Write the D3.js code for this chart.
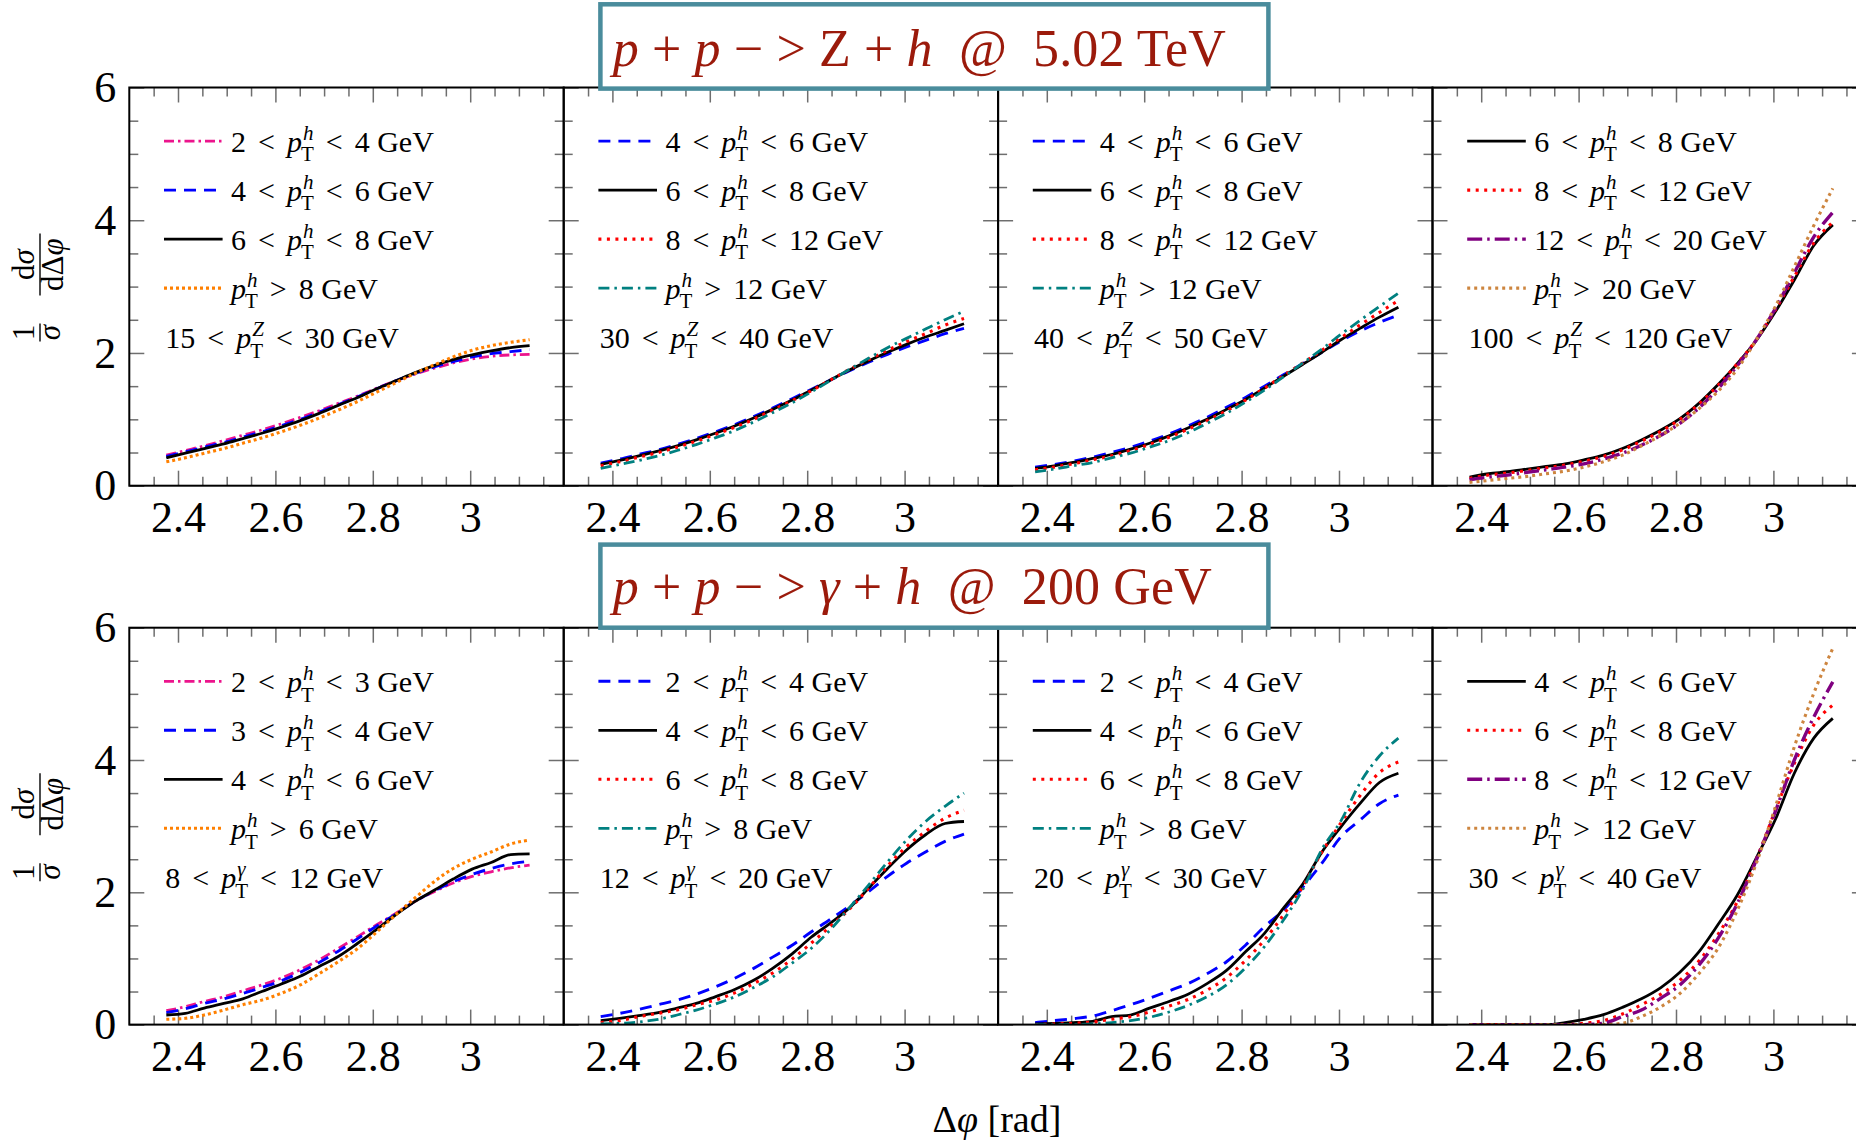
<!DOCTYPE html>
<html><head><meta charset="utf-8">
<script src="https://cdn.jsdelivr.net/npm/d3@7"></script>
<style>
body{margin:0;background:#fff}
svg{display:block}
svg text{font-family:"Liberation Serif","Times New Roman",serif !important}
</style>
</head><body><svg id="c" width="1856" height="1143"></svg>
<script>
// ---------------- DATA ----------------
const xValues = [2.376, 2.415, 2.454, 2.494, 2.533, 2.572, 2.611, 2.651, 2.690, 2.729,
                 2.769, 2.808, 2.847, 2.886, 2.926, 2.965, 3.004, 3.043, 3.083, 3.122];

const xMajorTicks = [2.4, 2.6, 2.8, 3.0];
const xMinorTicks = [2.35, 2.45, 2.5, 2.55, 2.65, 2.7, 2.75, 2.85, 2.9, 2.95, 3.05, 3.1, 3.15];
const yMajorTicks = [0, 2, 4, 6];
const yMinorTicks = [0.5, 1, 1.5, 2.5, 3, 3.5, 4.5, 5, 5.5];

// Z + h, 15 < pT^Z < 30 GeV
const z15_h2_4  = [0.46,0.53,0.60,0.68,0.76,0.84,0.93,1.03,1.13,1.24,1.35,1.47,1.58,1.68,1.77,1.85,1.91,1.95,1.97,1.98];
const z15_h4_6  = [0.44,0.51,0.58,0.65,0.73,0.81,0.90,1.00,1.11,1.22,1.34,1.46,1.58,1.69,1.79,1.87,1.94,1.99,2.02,2.05];
const z15_h6_8  = [0.42,0.49,0.56,0.63,0.71,0.79,0.88,0.98,1.09,1.21,1.33,1.46,1.58,1.70,1.81,1.90,1.97,2.03,2.08,2.11];
const z15_h8    = [0.36,0.42,0.49,0.56,0.64,0.72,0.81,0.91,1.02,1.14,1.27,1.41,1.55,1.69,1.82,1.94,2.04,2.11,2.16,2.20];
// Z + h, 30 < pT^Z < 40 GeV
const z30_h4_6  = [0.34,0.40,0.47,0.54,0.62,0.71,0.81,0.92,1.04,1.17,1.31,1.45,1.59,1.73,1.86,1.98,2.09,2.19,2.29,2.37];
const z30_h6_8  = [0.32,0.38,0.45,0.52,0.60,0.69,0.79,0.90,1.02,1.15,1.29,1.44,1.59,1.74,1.88,2.01,2.13,2.24,2.34,2.44];
const z30_h8_12 = [0.30,0.36,0.43,0.50,0.58,0.67,0.77,0.88,1.00,1.14,1.28,1.43,1.59,1.75,1.90,2.04,2.17,2.29,2.42,2.52];
const z30_h12   = [0.26,0.32,0.38,0.45,0.53,0.62,0.72,0.83,0.96,1.10,1.25,1.41,1.58,1.75,1.92,2.08,2.22,2.36,2.50,2.63];
// Z + h, 40 < pT^Z < 50 GeV
const z40_h4_6  = [0.28,0.32,0.37,0.43,0.50,0.58,0.67,0.78,0.90,1.03,1.18,1.33,1.50,1.67,1.84,2.01,2.18,2.33,2.46,2.57];
const z40_h6_8  = [0.26,0.30,0.35,0.41,0.47,0.55,0.64,0.75,0.87,1.00,1.15,1.30,1.47,1.65,1.83,2.01,2.20,2.37,2.54,2.69];
const z40_h8_12 = [0.24,0.28,0.33,0.39,0.45,0.53,0.62,0.73,0.85,0.98,1.13,1.29,1.47,1.66,1.85,2.04,2.23,2.42,2.61,2.79];
const z40_h12   = [0.21,0.25,0.30,0.35,0.42,0.49,0.58,0.68,0.80,0.94,1.09,1.26,1.44,1.64,1.85,2.06,2.28,2.49,2.70,2.90];
// Z + h, 100 < pT^Z < 120 GeV
const z100_h6_8   = [0.13,0.18,0.21,0.25,0.29,0.33,0.39,0.46,0.56,0.69,0.84,1.01,1.24,1.52,1.84,2.19,2.62,3.10,3.62,3.93];
const z100_h8_12  = [0.11,0.16,0.19,0.23,0.27,0.31,0.37,0.44,0.54,0.67,0.82,1.00,1.23,1.51,1.84,2.20,2.65,3.15,3.66,3.97];
const z100_h12_20 = [0.09,0.13,0.16,0.20,0.24,0.28,0.33,0.40,0.49,0.61,0.76,0.94,1.17,1.46,1.81,2.20,2.67,3.21,3.75,4.12];
const z100_h20    = [0.05,0.08,0.11,0.14,0.18,0.22,0.28,0.36,0.46,0.60,0.76,0.94,1.16,1.42,1.76,2.20,2.70,3.30,3.92,4.48];

// gamma + h, 8 < pT^gamma < 12 GeV
const g8_h2_3  = [0.21,0.27,0.35,0.42,0.51,0.60,0.70,0.83,0.98,1.15,1.33,1.51,1.68,1.86,2.01,2.14,2.24,2.31,2.37,2.41];
const g8_h3_4  = [0.18,0.24,0.32,0.39,0.47,0.56,0.66,0.79,0.94,1.11,1.30,1.49,1.67,1.86,2.02,2.16,2.27,2.36,2.43,2.47];
const g8_h4_6  = [0.145,0.17,0.25,0.32,0.39,0.50,0.61,0.73,0.88,1.03,1.23,1.44,1.66,1.86,2.03,2.20,2.35,2.45,2.57,2.58];
const g8_h6    = [0.08,0.095,0.145,0.22,0.30,0.37,0.47,0.60,0.77,0.95,1.15,1.40,1.66,1.91,2.16,2.36,2.50,2.61,2.73,2.79];
// gamma + h, 12 < pT^gamma < 20 GeV
const g12_h2_4 = [0.12,0.17,0.23,0.30,0.37,0.46,0.57,0.70,0.85,1.02,1.20,1.40,1.59,1.79,2.01,2.24,2.44,2.61,2.77,2.88];
const g12_h4_6 = [0.06,0.095,0.135,0.18,0.25,0.32,0.42,0.53,0.67,0.85,1.07,1.32,1.53,1.76,2.06,2.36,2.64,2.87,3.04,3.07];
const g12_h6_8 = [0.03,0.06,0.12,0.17,0.22,0.30,0.37,0.48,0.62,0.78,0.99,1.23,1.48,1.74,2.06,2.40,2.69,2.92,3.12,3.24];
const g12_h8   = [0.01,0.02,0.04,0.08,0.145,0.22,0.31,0.42,0.56,0.72,0.93,1.15,1.43,1.76,2.11,2.46,2.79,3.07,3.30,3.50];
// gamma + h, 20 < pT^gamma < 30 GeV
const g20_h2_4 = [0.03,0.06,0.09,0.13,0.21,0.30,0.40,0.51,0.62,0.77,0.95,1.20,1.48,1.73,2.08,2.44,2.84,3.09,3.34,3.47];
const g20_h4_6 = [0.01,0.02,0.03,0.05,0.12,0.145,0.25,0.35,0.46,0.62,0.82,1.10,1.38,1.76,2.13,2.61,2.99,3.34,3.66,3.80];
const g20_h6_8 = [0.00,0.01,0.02,0.04,0.08,0.12,0.19,0.28,0.38,0.52,0.71,0.97,1.28,1.66,2.09,2.61,3.05,3.46,3.81,3.97];
const g20_h8   = [0.00,0.00,0.00,0.01,0.03,0.06,0.11,0.19,0.29,0.42,0.60,0.86,1.18,1.58,2.05,2.65,3.08,3.65,4.06,4.33];
// gamma + h, 30 < pT^gamma < 40 GeV
const g30_h4_6  = [0,0,0,0,0,0.03,0.08,0.15,0.26,0.39,0.56,0.79,1.10,1.51,1.96,2.52,3.10,3.80,4.33,4.63];
const g30_h6_8  = [0,0,0,0,0,0,0.02,0.06,0.16,0.30,0.46,0.67,0.96,1.36,1.86,2.50,3.24,3.95,4.53,4.83];
const g30_h8_12 = [0,0,0,0,0,0,0,0.02,0.12,0.22,0.40,0.60,0.90,1.30,1.83,2.49,3.22,4.00,4.65,5.18];
const g30_h12   = [0,0,0,0,0,0,0,0,0.02,0.12,0.27,0.47,0.77,1.15,1.73,2.44,3.29,4.20,5.01,5.69];

// legend labels: [lower value, relation, superscript of p_T, relation, upper value with unit]
const labZ15  = [["2","<","h","<","4 GeV"],["4","<","h","<","6 GeV"],["6","<","h","<","8 GeV"],["","","h",">","8 GeV"]];
const labZ30  = [["4","<","h","<","6 GeV"],["6","<","h","<","8 GeV"],["8","<","h","<","12 GeV"],["","","h",">","12 GeV"]];
const labZ100 = [["6","<","h","<","8 GeV"],["8","<","h","<","12 GeV"],["12","<","h","<","20 GeV"],["","","h",">","20 GeV"]];
const labG8   = [["2","<","h","<","3 GeV"],["3","<","h","<","4 GeV"],["4","<","h","<","6 GeV"],["","","h",">","6 GeV"]];
const labG12  = [["2","<","h","<","4 GeV"],["4","<","h","<","6 GeV"],["6","<","h","<","8 GeV"],["","","h",">","8 GeV"]];
const labG30  = [["4","<","h","<","6 GeV"],["6","<","h","<","8 GeV"],["8","<","h","<","12 GeV"],["","","h",">","12 GeV"]];
const binLabels = [["15","<","Z","<","30 GeV"],["30","<","Z","<","40 GeV"],["40","<","Z","<","50 GeV"],["100","<","Z","<","120 GeV"],
                   ["8","<","γ","<","12 GeV"],["12","<","γ","<","20 GeV"],["20","<","γ","<","30 GeV"],["30","<","γ","<","40 GeV"]];

// ---------------- STYLES ----------------
const lineStyles = {
  magenta:{color:"#ec148c", dash:"10,4,2.5,4", width:2.8},
  blue:   {color:"#0000ff", dash:"12,8", width:2.9},
  black:  {color:"#000000", dash:null, width:2.8},
  orange: {color:"#ff8000", dash:"3,3", width:3.1},
  red:    {color:"#ff0000", dash:"3,5.5", width:3.1},
  teal:   {color:"#008080", dash:"11,5,2.5,5", width:2.8},
  purple: {color:"#800080", dash:"15,5,2.5,5", width:3.4},
  brown:  {color:"#cd853f", dash:"3,4", width:3.1}
};

const panels = [
  {row:0,col:0,series:[z15_h2_4,z15_h4_6,z15_h6_8,z15_h8],styles:["magenta","blue","black","orange"],labels:labZ15,bin:binLabels[0]},
  {row:0,col:1,series:[z30_h4_6,z30_h6_8,z30_h8_12,z30_h12],styles:["blue","black","red","teal"],labels:labZ30,bin:binLabels[1]},
  {row:0,col:2,series:[z40_h4_6,z40_h6_8,z40_h8_12,z40_h12],styles:["blue","black","red","teal"],labels:labZ30,bin:binLabels[2]},
  {row:0,col:3,series:[z100_h6_8,z100_h8_12,z100_h12_20,z100_h20],styles:["black","red","purple","brown"],labels:labZ100,bin:binLabels[3]},
  {row:1,col:0,series:[g8_h2_3,g8_h3_4,g8_h4_6,g8_h6],styles:["magenta","blue","black","orange"],labels:labG8,bin:binLabels[4]},
  {row:1,col:1,series:[g12_h2_4,g12_h4_6,g12_h6_8,g12_h8],styles:["blue","black","red","teal"],labels:labG12,bin:binLabels[5]},
  {row:1,col:2,series:[g20_h2_4,g20_h4_6,g20_h6_8,g20_h8],styles:["blue","black","red","teal"],labels:labG12,bin:binLabels[6]},
  {row:1,col:3,series:[g30_h4_6,g30_h6_8,g30_h8_12,g30_h12],styles:["black","red","purple","brown"],labels:labG30,bin:binLabels[7]}
];

// ---------------- LAYOUT ----------------
const svg = d3.select("#c");
const left0 = 129.3, panelW = 434.4;
const rows = [{top:87.5,bottom:485.7},{top:627.7,bottom:1024.6}];
const tickColor = "#6e6e6e";
const FS_TICK = 44, FS_LEG = 30, FS_SCRIPT = 21, GAP = 12;

const defs = svg.append("defs");

function mathLabel(g, x, y, parts, fs) {
  const [lo, rel1, sup, rel2, hi] = parts;
  let cx = x;
  const put = (str, size, dy, italic, atX) => {
    const t = g.append("text").attr("x", atX).attr("y", y+dy)
      .attr("font-size", size).attr("font-style", italic ? "italic" : "normal")
      .attr("fill","#000").text(str);
    return t.node().getComputedTextLength();
  };
  if (lo) { cx += put(lo, fs, 0, false, cx) + GAP; cx += put(rel1, fs, 0, false, cx) + GAP; }
  cx += put("p", fs, 0, true, cx);
  const w1 = put(sup, FS_SCRIPT, -fs*0.40, true, cx + 1);
  const w2 = put("T", FS_SCRIPT, fs*0.32, false, cx - 1);
  cx += Math.max(w1 + 1, w2 - 1) + GAP;
  cx += put(rel2, fs, 0, false, cx) + GAP;
  put(hi, fs, 0, false, cx);
}

panels.forEach(p => {
  const r = rows[p.row];
  const L = left0 + p.col*panelW, R = L + panelW;
  const x = d3.scaleLinear().domain([2.3, 3.192]).range([L, R]);
  const y = d3.scaleLinear().domain([0, 6]).range([r.bottom, r.top]);
  const g = svg.append("g");

  // ticks (inward, gray)
  const tickAxis = (axisFn, scale, vals, size, tx, ty) => {
    const a = g.append("g").attr("transform", `translate(${tx},${ty})`)
      .call(axisFn(scale).tickValues(vals).tickSize(-size).tickFormat(""));
    a.select(".domain").remove();
    a.selectAll("line").attr("stroke", tickColor).attr("stroke-width", 1.5);
  };
  tickAxis(d3.axisBottom, x, xMinorTicks, 9, 0, r.bottom);
  tickAxis(d3.axisBottom, x, xMajorTicks, 15, 0, r.bottom);
  tickAxis(d3.axisTop, x, xMinorTicks, 9, 0, r.top);
  tickAxis(d3.axisTop, x, xMajorTicks, 15, 0, r.top);
  tickAxis(d3.axisLeft, y, yMinorTicks, 9, L, 0);
  tickAxis(d3.axisLeft, y, yMajorTicks, 15, L, 0);
  tickAxis(d3.axisRight, y, yMinorTicks, 9, R, 0);
  tickAxis(d3.axisRight, y, yMajorTicks, 15, R, 0);

  // x tick labels
  const xl = g.append("g").attr("transform", `translate(0,${r.bottom})`)
    .call(d3.axisBottom(x).tickValues(xMajorTicks).tickSize(0).tickPadding(15).tickFormat(d3.format("~g")));
  xl.select(".domain").remove();
  xl.attr("font-family", null);
  xl.selectAll("text").attr("font-size", FS_TICK).attr("fill","#000");

  if (p.col === 0) {
    const yl = g.append("g").attr("transform", `translate(${L},0)`)
      .call(d3.axisLeft(y).tickValues(yMajorTicks).tickSize(0).tickPadding(13).tickFormat(d3.format("~g")));
    yl.select(".domain").remove();
    yl.attr("font-family", null);
    yl.selectAll("text").attr("font-size", FS_TICK).attr("fill","#000");
  }

  // curves
  const cid = `clip${p.row}${p.col}`;
  defs.append("clipPath").attr("id", cid).append("rect")
    .attr("x", L).attr("y", r.top).attr("width", panelW).attr("height", r.bottom - r.top);
  const line = d3.line().x((d,i) => x(xValues[i])).y(d => y(d)).curve(d3.curveMonotoneX);
  const cg = g.append("g").attr("clip-path", `url(#${cid})`);
  p.series.forEach((s, k) => {
    const st = lineStyles[p.styles[k]];
    cg.append("path").attr("d", line(s)).attr("fill","none")
      .attr("stroke", st.color).attr("stroke-width", st.width)
      .attr("stroke-dasharray", st.dash);
  });

  // legend
  p.labels.forEach((lab, k) => {
    const st = lineStyles[p.styles[k]];
    const ly = r.top + 53.6 + k*49;
    g.append("line").attr("x1", L+34.7).attr("x2", L+93.3).attr("y1", ly).attr("y2", ly)
      .attr("stroke", st.color).attr("stroke-width", st.width).attr("stroke-dasharray", st.dash);
    mathLabel(g, L+101.7, ly + 10.7, lab, FS_LEG);
  });
  mathLabel(g, L+36, r.top + 260.5, p.bin, FS_LEG);

  // frame
  g.append("rect").attr("x", L).attr("y", r.top).attr("width", panelW).attr("height", r.bottom - r.top)
    .attr("fill","none").attr("stroke","#000").attr("stroke-width", 2);
});

// y-axis labels (rotated fractions)
rows.forEach(r => {
  const cy = (r.top + r.bottom)/2;
  const g = svg.append("g").attr("transform", `translate(40,${cy}) rotate(-90)`).attr("font-size", 31);
  g.append("text").attr("x", -46).attr("y", -6).attr("text-anchor","middle").text("1");
  g.append("line").attr("x1", -55).attr("x2", -37).attr("y1", 0).attr("y2", 0).attr("stroke","#000").attr("stroke-width",1.4);
  g.append("text").attr("x", -46).attr("y", 20).attr("text-anchor","middle").attr("font-style","italic").text("σ");
  const t1 = g.append("text").attr("x", 22).attr("y", -6).attr("text-anchor","middle");
  t1.append("tspan").text("d");
  t1.append("tspan").attr("font-style","italic").text("σ");
  g.append("line").attr("x1", -9).attr("x2", 53).attr("y1", 0).attr("y2", 0).attr("stroke","#000").attr("stroke-width",1.4);
  const t2 = g.append("text").attr("x", 22).attr("y", 23).attr("text-anchor","middle");
  t2.append("tspan").text("dΔ");
  t2.append("tspan").attr("font-style","italic").text("φ");
});

// x-axis label
const xt = svg.append("text").attr("x", 997).attr("y", 1132).attr("text-anchor","middle").attr("font-size", 38);
xt.append("tspan").text("Δ");
xt.append("tspan").attr("font-style","italic").text("φ");
xt.append("tspan").text(" [rad]");

// title boxes
const titles = [
  {y:4.3, h:84.3, base:66, width:613, parts:[["p",1],[" + ",0],["p",1],[" − > ",0],["Z",0],[" + ",0],["h",1],["  @  5.02 TeV",0]]},
  {y:544.6, h:83.1, base:603.5, width:599, parts:[["p",1],[" + ",0],["p",1],[" − > ",0],["γ",1],[" + ",0],["h",1],["  @  200 GeV",0]]}
];
titles.forEach(t => {
  svg.append("rect").attr("x", 600.4).attr("y", t.y).attr("width", 668).attr("height", t.h)
    .attr("fill","#fff").attr("stroke","#4a8c9c").attr("stroke-width", 4.5);
  const tx = svg.append("text").attr("x", 612.8).attr("y", t.base).attr("font-size", 52)
    .attr("fill","#9b1a0b").attr("textLength", t.width).attr("lengthAdjust","spacing")
    .style("white-space","pre");
  t.parts.forEach(([s, it]) => tx.append("tspan").attr("font-style", it ? "italic" : "normal").text(s));
});
</script>
</body></html>
